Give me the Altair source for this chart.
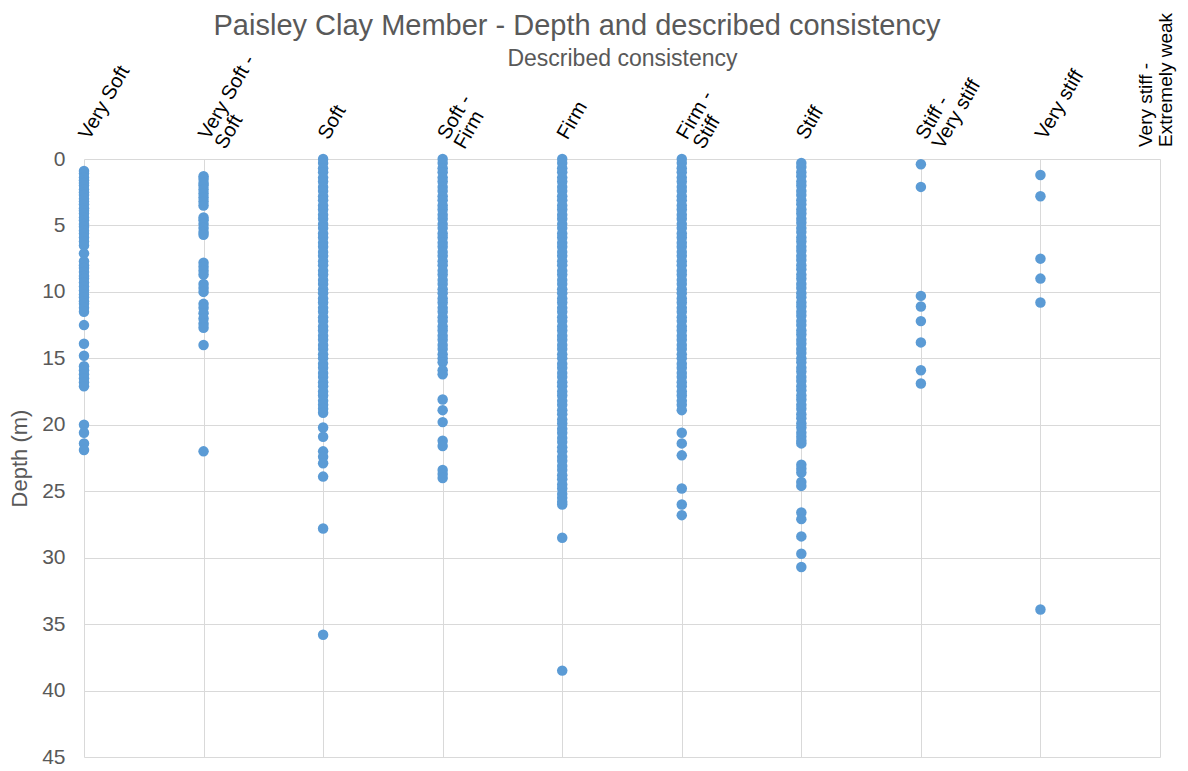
import altair as alt
import pandas as pd

categories = ["Very Soft", "Very Soft - Soft", "Soft", "Soft - Firm", "Firm",
              "Firm - Stiff", "Stiff", "Stiff - Very stiff", "Very stiff",
              "Very stiff - Extremely weak"]

very_soft = [0.9, 1.1, 1.4, 1.6, 1.8, 2.0, 2.3, 2.5, 2.7, 3.0, 3.2, 3.4, 3.7, 3.9, 4.1,
             4.4, 4.6, 4.9, 5.1, 5.4, 5.6, 5.9, 6.2, 6.5, 7.1, 7.7, 8.0, 8.2, 8.5, 8.8,
             9.0, 9.3, 9.6, 9.9, 10.2, 10.4, 10.7, 10.9, 11.2, 11.5, 12.5, 13.9, 14.8,
             15.6, 15.9, 16.2, 16.5, 16.8, 17.1, 20.0, 20.6, 21.4, 21.9]
very_soft_soft = [1.3, 1.5, 1.8, 2.0, 2.3, 2.6, 2.9, 3.2, 3.5, 4.4, 4.6, 4.9, 5.2, 5.5,
                  5.7, 7.8, 8.1, 8.4, 8.7, 9.4, 9.7, 10.0, 10.9, 11.2, 11.6, 12.0, 12.4,
                  12.7, 14.0, 22.0]
soft = [0.0, 0.3, 0.7, 1.0, 1.4, 1.7, 2.1, 2.4, 2.8, 3.1, 3.5, 3.8, 4.2, 4.5, 4.9, 5.2,
        5.6, 5.9, 6.3, 6.6, 7.0, 7.3, 7.7, 8.0, 8.4, 8.7, 9.1, 9.4, 9.8, 10.1, 10.5, 10.8,
        11.2, 11.5, 11.9, 12.2, 12.6, 12.9, 13.3, 13.6, 14.0, 14.3, 14.7, 15.0, 15.4,
        15.7, 16.1, 16.4, 16.8, 17.1, 17.5, 17.8, 18.2, 18.5, 18.8, 19.1, 20.2, 20.9,
        22.0, 22.4, 22.9, 23.9, 27.8, 35.8]
soft_firm = [0.0, 0.3, 0.7, 1.0, 1.4, 1.7, 2.1, 2.4, 2.8, 3.1, 3.5, 3.8, 4.2, 4.5, 4.9,
             5.2, 5.6, 5.9, 6.3, 6.6, 7.0, 7.3, 7.7, 8.0, 8.4, 8.7, 9.1, 9.4, 9.8, 10.1,
             10.5, 10.8, 11.2, 11.5, 11.9, 12.2, 12.6, 12.9, 13.3, 13.6, 14.0, 14.3, 14.7,
             15.0, 15.3, 15.9, 16.2, 18.1, 18.9, 19.8, 21.2, 21.6, 23.4, 23.7, 24.0]
firm = [0.0, 0.3, 0.7, 1.0, 1.4, 1.7, 2.1, 2.4, 2.8, 3.1, 3.5, 3.8, 4.2, 4.5, 4.9, 5.2,
        5.6, 5.9, 6.3, 6.6, 7.0, 7.3, 7.7, 8.0, 8.4, 8.7, 9.1, 9.4, 9.8, 10.1, 10.5, 10.8,
        11.2, 11.5, 11.9, 12.2, 12.6, 12.9, 13.3, 13.6, 14.0, 14.3, 14.7, 15.0, 15.4,
        15.7, 16.1, 16.4, 16.8, 17.1, 17.5, 17.8, 18.2, 18.5, 18.9, 19.2, 19.6, 19.9,
        20.3, 20.6, 21.0, 21.3, 21.7, 22.0, 22.4, 22.7, 23.1, 23.4, 23.8, 24.1, 24.5,
        24.8, 25.2, 25.5, 25.8, 26.0, 28.5, 38.5]
firm_stiff = [0.0, 0.3, 0.7, 1.0, 1.4, 1.7, 2.1, 2.4, 2.8, 3.1, 3.5, 3.8, 4.2, 4.5, 4.9,
              5.2, 5.6, 5.9, 6.3, 6.6, 7.0, 7.3, 7.7, 8.0, 8.4, 8.7, 9.1, 9.4, 9.8, 10.1,
              10.5, 10.8, 11.2, 11.5, 11.9, 12.2, 12.6, 12.9, 13.3, 13.6, 14.0, 14.3, 14.7,
              15.0, 15.4, 15.7, 16.1, 16.4, 16.8, 17.1, 17.5, 17.8, 18.2, 18.5, 18.9, 20.6,
              21.4, 22.3, 24.8, 26.0, 26.8]
stiff = [0.3, 0.6, 1.0, 1.3, 1.7, 2.0, 2.4, 2.7, 3.1, 3.4, 3.8, 4.1, 4.5, 4.8, 5.2, 5.5,
         5.9, 6.2, 6.6, 6.9, 7.3, 7.6, 8.0, 8.3, 8.7, 9.0, 9.4, 9.7, 10.1, 10.4, 10.8,
         11.1, 11.5, 11.8, 12.2, 12.5, 12.9, 13.2, 13.6, 13.9, 14.3, 14.6, 15.0, 15.3,
         15.7, 16.0, 16.4, 16.7, 17.1, 17.4, 17.8, 18.1, 18.5, 18.8, 19.2, 19.5, 19.9,
         20.2, 20.6, 20.9, 21.2, 21.4, 23.0, 23.3, 23.6, 24.3, 24.6, 26.6, 27.1, 28.4,
         29.7, 30.7]
stiff_very_stiff = [0.4, 2.1, 10.3, 11.1, 12.2, 13.8, 15.9, 16.9]
very_stiff = [1.2, 2.8, 7.5, 9.0, 10.8, 33.9]
very_stiff_extremely_weak = []

series = [very_soft, very_soft_soft, soft, soft_firm, firm, firm_stiff, stiff,
          stiff_very_stiff, very_stiff, very_stiff_extremely_weak]

rows = []
for cat, vals in zip(categories, series):
    for v in vals:
        rows.append({"cat": cat, "depth": v})
points_df = pd.DataFrame(rows)
labels_df = pd.DataFrame({"cat": categories})

FONT = "Liberation Sans"
GREY = "#595959"
GRID = "#d9d9d9"

x_scale = alt.Scale(type="point", domain=categories, padding=0)
y_scale = alt.Scale(domain=[0, 45], reverse=True, nice=False)

x_enc = alt.X("cat:N", scale=x_scale, sort=categories,
              axis=alt.Axis(orient="top", labels=False, ticks=False, domain=False,
                            grid=True, gridColor=GRID, gridWidth=1,
                            title="Described consistency", titleFont=FONT,
                            titleFontSize=23, titleFontWeight="normal",
                            titleColor=GREY, titlePadding=89))

points = alt.Chart(points_df).mark_circle(size=110, color="#5B9BD5", opacity=1).encode(
    x=x_enc,
    y=alt.Y("depth:Q", scale=y_scale,
            axis=alt.Axis(values=[0, 5, 10, 15, 20, 25, 30, 35, 40, 45], domain=False,
                          ticks=False, grid=True, gridColor=GRID, gridWidth=1,
                          labelFont=FONT, labelFontSize=21, labelColor=GREY,
                          labelPadding=19, title="Depth (m)", titleFont=FONT,
                          titleFontSize=22, titleFontWeight="normal",
                          titleColor=GREY, titlePadding=10)),
)

label_expr = ("indexof(datum.cat, ' - ') >= 0 ? "
              "[slice(datum.cat, 0, indexof(datum.cat, ' - ') + 2), "
              "slice(datum.cat, indexof(datum.cat, ' - ') + 3)] : datum.cat")

slanted = alt.Chart(labels_df).transform_filter(
    alt.datum.cat != categories[-1]
).transform_calculate(lbl=label_expr).mark_text(
    angle=300, align="left", baseline="bottom", font=FONT, fontSize=20,
    color="black", lineHeight=19, dx=2, dy=9
).encode(
    x=alt.X("cat:N", scale=x_scale, sort=categories),
    y=alt.value(-19),
    text="lbl:N",
)

vertical = alt.Chart(labels_df).transform_filter(
    alt.datum.cat == categories[-1]
).transform_calculate(lbl=label_expr).mark_text(
    angle=270, align="left", baseline="middle", font=FONT, fontSize=19,
    color="black", lineHeight=20, dy=-14
).encode(
    x=alt.X("cat:N", scale=x_scale, sort=categories),
    y=alt.value(-12),
    text="lbl:N",
)

chart = alt.layer(points, slanted, vertical).properties(
    width=1076, height=598,
    title=alt.TitleParams("Paisley Clay Member - Depth and described consistency",
                          font=FONT, fontSize=29, fontWeight="normal", color=GREY,
                          anchor="middle", offset=-28, dx=-45),
    autosize=alt.AutoSizeParams(type="none"),
    padding={"left": 76, "top": 151, "right": 20, "bottom": 12},
).configure_view(stroke=None)

chart.save("out.html", embed_options={"renderer": "svg", "actions": False})
